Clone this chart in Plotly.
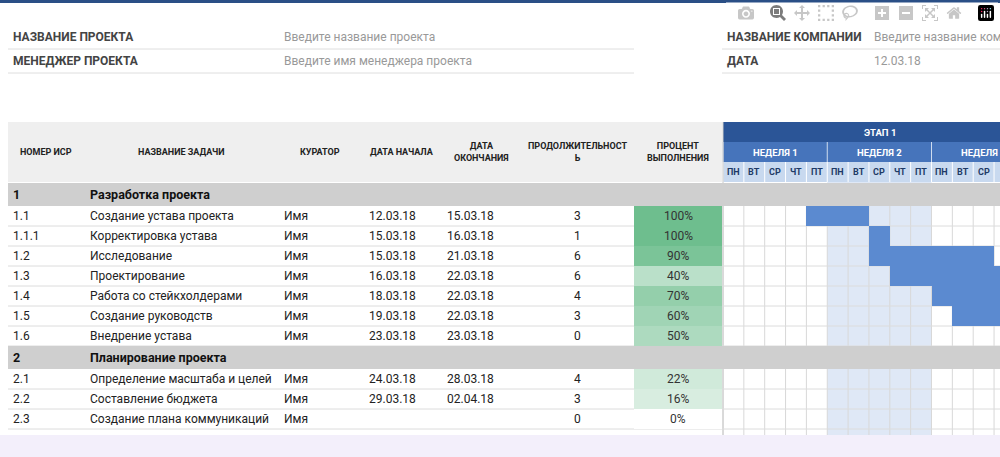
import plotly.graph_objects as go

ids = ["1", "1.1", "1.1.1", "1.2", "1.3", "1.4", "1.5", "1.6", "2", "2.1", "2.2", "2.3"]
tasks = ["Разработка проекта", "Создание устава проекта", "Корректировка устава", "Исследование",
         "Проектирование", "Работа со стейкхолдерами", "Создание руководств", "Внедрение устава",
         "Планирование проекта", "Определение масштаба и целей", "Составление бюджета",
         "Создание плана коммуникаций"]
section = [True, False, False, False, False, False, False, False, True, False, False, False]
curators = ["", "Имя", "Имя", "Имя", "Имя", "Имя", "Имя", "Имя", "", "Имя", "Имя", "Имя"]
starts = ["", "12.03.18", "15.03.18", "15.03.18", "16.03.18", "18.03.18", "19.03.18", "23.03.18", "", "24.03.18", "29.03.18", ""]
ends = ["", "15.03.18", "16.03.18", "21.03.18", "22.03.18", "22.03.18", "22.03.18", "23.03.18", "", "28.03.18", "02.04.18", ""]
durations = ["", "3", "1", "6", "6", "4", "3", "0", "", "4", "3", "0"]
percent = [None, 100, 100, 90, 40, 70, 60, 50, None, 22, 16, 0]
# gantt: start day index (0 = ПН week 1) and length in days
bar_start = [None, 4, 7, 7, 8, 10, 11, None, None, None, None, None]
bar_len = [None, 3, 1, 6, 6, 4, 3, None, None, None, None, None]
days = ["ПН", "ВТ", "СР", "ЧТ", "ПТ"] * 3
weeks = ["НЕДЕЛЯ 1", "НЕДЕЛЯ 2", "НЕДЕЛЯ 3"]

tops, bots = [], []
y = 183
for s in section:
    h = 23 if s else 20
    tops.append(y); bots.append(y + h); y += h
TABLE_BOTTOM = bots[-1] + 6

GX0, DW = 723, 20.85
shapes, ann = [], []
def rect(x0, y0, x1, y1, fill, layer="below"):
    shapes.append(dict(type="rect", xref="x", yref="y", x0=x0, y0=y0, x1=x1, y1=y1,
                       fillcolor=fill, line=dict(width=0), layer=layer))
def hline(x0, x1, yy, color="#e2e2e2", w=1):
    shapes.append(dict(type="line", xref="x", yref="y", x0=x0, x1=x1, y0=yy, y1=yy, line=dict(color=color, width=w), layer="below"))
def vline(xx, y0, y1, color="#dcdcdc", w=1):
    shapes.append(dict(type="line", xref="x", yref="y", x0=xx, x1=xx, y0=y0, y1=y1, line=dict(color=color, width=w), layer="below"))
def txt(x, y, t, size=12, color="#222", bold=False, anchor="left"):
    ann.append(dict(x=x, y=y, xref="x", yref="y", text=f"<b>{t}</b>" if bold else t, showarrow=False,
                    xanchor=anchor, yanchor="middle", font=dict(size=size, color=color)))

rect(0, 0, 1000, 3, "#2a4f86")
info = [("НАЗВАНИЕ ПРОЕКТА", "Введите название проекта", 37), ("МЕНЕДЖЕР ПРОЕКТА", "Введите имя менеджера проекта", 61)]
for lab, val, yy in info:
    txt(11, yy, lab, 12, "#444", True); txt(282, yy, val, 12, "#999")
    hline(8, 634, yy + 12, "#dedede")
info2 = [("НАЗВАНИЕ КОМПАНИИ", "Введите название компании", 37), ("ДАТА", "12.03.18", 61)]
for lab, val, yy in info2:
    txt(725, yy, lab, 12, "#444", True); txt(872, yy, val, 12, "#999")
    hline(722, 1000, yy + 12, "#dedede")

rect(8, 122, 722, 182, "#efefef")
hdr = [(46, "НОМЕР ИСР"), (181, "НАЗВАНИЕ ЗАДАЧИ"), (320, "КУРАТОР"), (402, "ДАТА НАЧАЛА"),
       (481, "ДАТА<br>ОКОНЧАНИЯ"), (577, "ПРОДОЛЖИТЕЛЬНОСТ<br>Ь"), (678, "ПРОЦЕНТ<br>ВЫПОЛНЕНИЯ")]
for xx, t in hdr:
    ann.append(dict(x=xx, y=152, xref="x", yref="y", text=f"<b>{t}</b>", showarrow=False,
                    xanchor="center", yanchor="middle", font=dict(size=9, color="#222")))
rect(GX0, 122, 1000, 142, "#2b5597")
txt(880, 132, "ЭТАП 1", 9.5, "white", True, "center")
rect(GX0, 142, 1000, 162, "#4674bb")
rect(GX0, 162, 1000, 182, "#c8d9ef")
for w, name in enumerate(weeks):
    xc = GX0 + (w * 5 + 2.5) * DW
    txt(xc, 152, name, 9.5, "white", True, "center")
    vline(GX0 + w * 5 * DW, 142, 162, "#cfdcef")
for d, name in enumerate(days):
    xc = GX0 + (d + 0.5) * DW
    txt(xc, 172, name, 9, "#1e3a66", True, "center")
    vline(GX0 + d * DW, 162, 182, "#ffffff")

rect(GX0 + 5 * DW, 182, GX0 + 10 * DW, TABLE_BOTTOM, "#dfe8f6")
for d in range(16):
    vline(GX0 + d * DW, 206, TABLE_BOTTOM, "#d8d8d8")
vline(GX0, 122, TABLE_BOTTOM, "#c8c8c8")

def pct_color(p):
    lo, hi = (236, 246, 240), (110, 190, 142)
    f = p / 100
    return "rgb(%d,%d,%d)" % tuple(round(lo[i] + (hi[i] - lo[i]) * f) for i in range(3))

for i in range(len(ids)):
    t0, t1 = tops[i], bots[i]
    yc = (t0 + t1) / 2
    if section[i]:
        rect(8, t0, 1000, t1, "#cfcfcf")
        txt(11, yc, ids[i], 12.5, "#111", True)
        txt(88, yc, tasks[i], 12.5, "#111", True)
        continue
    hline(8, 1000, t1, "#dcdcdc")
    txt(11, yc, ids[i], 12)
    txt(88, yc, tasks[i], 12)
    txt(282, yc, curators[i], 12)
    txt(367, yc, starts[i], 12)
    txt(445, yc, ends[i], 12)
    txt(577, yc, durations[i], 12, anchor="center")
    if percent[i] is not None:
        rect(634, t0, 722, t1, pct_color(percent[i]) if percent[i] > 0 else "white")
        txt(678, yc, f"{percent[i]}%", 12, "#333", anchor="center")

rect(0, TABLE_BOTTOM, 1000, 457, "#f3effb")

bx, by, bb = [], [], []
for i in range(len(ids)):
    if bar_start[i] is not None:
        bx.append(bar_len[i]); bb.append(bar_start[i]); by.append((tops[i] + bots[i]) / 2)

fig = go.Figure()
fig.add_trace(go.Scatter(x=[0, 1000], y=[0, 457], mode="markers", marker=dict(opacity=0), hoverinfo="skip", showlegend=False))
fig.add_trace(go.Bar(orientation="h", x=bx, base=bb, y=by, width=20, xaxis="x2", yaxis="y",
                     marker=dict(color="#5b8ad0", line=dict(width=0)), showlegend=False))
fig.update_layout(
    width=1000, height=457, margin=dict(l=0, r=0, t=0, b=0),
    paper_bgcolor="white", plot_bgcolor="rgba(0,0,0,0)",
    font=dict(family="Roboto, Arial, sans-serif"),
    xaxis=dict(range=[0, 1000], visible=False, domain=[0, 1], fixedrange=True),
    xaxis2=dict(range=[0, (1000 - GX0) / DW], visible=False, domain=[GX0 / 1000, 1], anchor="y"),
    yaxis=dict(range=[457, 0], visible=False, fixedrange=True),
    shapes=shapes, annotations=ann, bargap=0,
)
fig.write_html("out.html", post_script="document.body.style.margin='0';document.body.style.overflow='hidden';")
